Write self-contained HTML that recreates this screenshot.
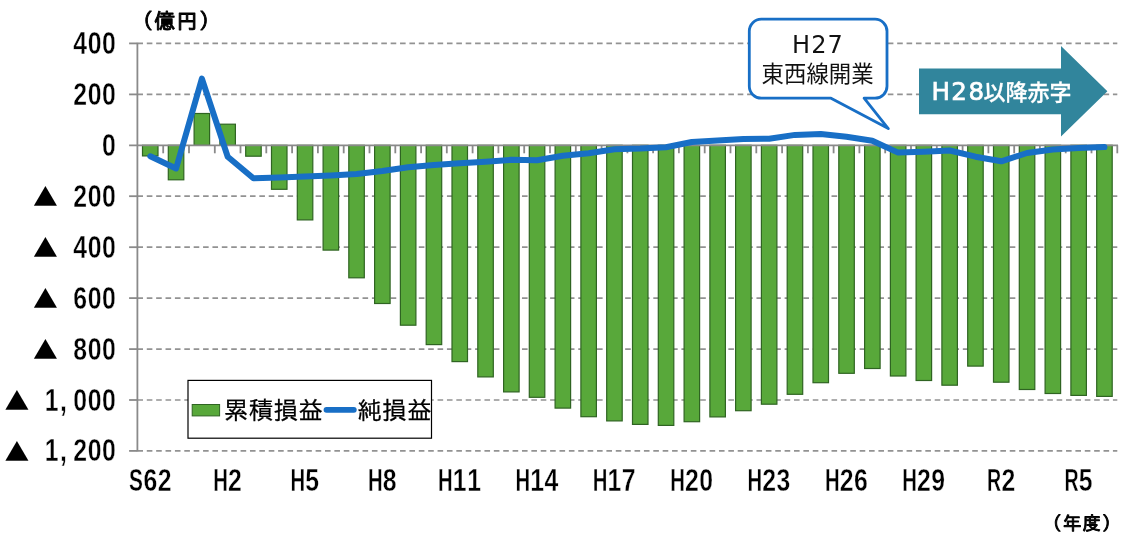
<!DOCTYPE html>
<html lang="ja"><head><meta charset="utf-8"><title>累積損益・純損益の推移</title>
<style>
html,body{margin:0;padding:0;background:#fff;}
body{width:1125px;height:538px;overflow:hidden;}
svg{display:block;}
.ax{font-family:"Liberation Sans","Noto Sans CJK JP",sans-serif;font-weight:bold;font-size:30.6px;fill:#000;stroke:#fff;stroke-width:0.4px;}
.tri{font-family:"IPAGothic","DejaVu Sans",sans-serif;stroke:none;}
.unit{font-family:"IPAGothic","Noto Sans CJK JP",sans-serif;fill:#000;stroke:#000;stroke-width:0.95px;stroke-linejoin:round;}
.lg{font-family:"IPAGothic","Noto Sans CJK JP",sans-serif;font-size:24.6px;fill:#000;stroke:#000;stroke-width:0.25px;}
.co{font-family:"DejaVu Sans","Liberation Sans","Noto Sans CJK JP",sans-serif;fill:#111;}
.cj{font-family:"Noto Sans CJK JP","Liberation Sans",sans-serif;fill:#111;}
.ar{font-family:"DejaVu Sans","Liberation Sans","Noto Sans CJK JP",sans-serif;fill:#fff;stroke:#fff;stroke-width:0.7px;}
.aj{font-family:"Noto Sans CJK JP","Liberation Sans",sans-serif;font-weight:500;fill:#fff;stroke:#fff;stroke-width:0.3px;}
</style></head><body>
<svg width="1125" height="538" viewBox="0 0 1125 538">
<rect width="1125" height="538" fill="#fff"/>
<g stroke="#929292" stroke-width="1.7" stroke-dasharray="5.6 3.78" fill="none">
<line x1="137.4" y1="43.4" x2="1117.3" y2="43.4"/>
<line x1="137.4" y1="94.4" x2="1117.3" y2="94.4"/>
<line x1="137.4" y1="196.2" x2="1117.3" y2="196.2"/>
<line x1="137.4" y1="247.2" x2="1117.3" y2="247.2"/>
<line x1="137.4" y1="298.1" x2="1117.3" y2="298.1"/>
<line x1="137.4" y1="349.1" x2="1117.3" y2="349.1"/>
<line x1="137.4" y1="400.0" x2="1117.3" y2="400.0"/>
<line x1="137.4" y1="450.9" x2="1117.3" y2="450.9"/>
</g>
<g fill="#58a83a" stroke="#2f6422" stroke-width="1.2">
<rect x="142.5" y="145.3" width="15.5" height="10.6"/>
<rect x="168.3" y="145.3" width="15.5" height="34.5"/>
<rect x="194.1" y="113.5" width="15.5" height="31.8"/>
<rect x="219.9" y="124.2" width="15.5" height="21.1"/>
<rect x="245.7" y="145.3" width="15.5" height="10.9"/>
<rect x="271.5" y="145.3" width="15.5" height="44.0"/>
<rect x="297.3" y="145.3" width="15.5" height="74.6"/>
<rect x="323.1" y="145.3" width="15.5" height="104.8"/>
<rect x="348.8" y="145.3" width="15.5" height="132.5"/>
<rect x="374.6" y="145.3" width="15.5" height="158.2"/>
<rect x="400.4" y="145.3" width="15.5" height="179.9"/>
<rect x="426.2" y="145.3" width="15.5" height="199.3"/>
<rect x="452.0" y="145.3" width="15.5" height="216.3"/>
<rect x="477.8" y="145.3" width="15.5" height="231.6"/>
<rect x="503.6" y="145.3" width="15.5" height="246.6"/>
<rect x="529.3" y="145.3" width="15.5" height="252.0"/>
<rect x="555.1" y="145.3" width="15.5" height="262.8"/>
<rect x="580.9" y="145.3" width="15.5" height="271.4"/>
<rect x="606.7" y="145.3" width="15.5" height="275.6"/>
<rect x="632.5" y="145.3" width="15.5" height="279.1"/>
<rect x="658.3" y="145.3" width="15.5" height="280.1"/>
<rect x="684.1" y="145.3" width="15.5" height="276.4"/>
<rect x="709.9" y="145.3" width="15.5" height="271.6"/>
<rect x="735.6" y="145.3" width="15.5" height="265.4"/>
<rect x="761.4" y="145.3" width="15.5" height="258.9"/>
<rect x="787.2" y="145.3" width="15.5" height="249.0"/>
<rect x="813.0" y="145.3" width="15.5" height="237.4"/>
<rect x="838.8" y="145.3" width="15.5" height="228.0"/>
<rect x="864.6" y="145.3" width="15.5" height="223.2"/>
<rect x="890.4" y="145.3" width="15.5" height="230.7"/>
<rect x="916.1" y="145.3" width="15.5" height="235.2"/>
<rect x="941.9" y="145.3" width="15.5" height="239.9"/>
<rect x="967.7" y="145.3" width="15.5" height="220.8"/>
<rect x="993.5" y="145.3" width="15.5" height="236.9"/>
<rect x="1019.3" y="145.3" width="15.5" height="244.2"/>
<rect x="1045.1" y="145.3" width="15.5" height="248.2"/>
<rect x="1070.9" y="145.3" width="15.5" height="250.1"/>
<rect x="1096.7" y="145.3" width="15.5" height="251.1"/>
</g>
<g stroke="#8a8a8a" stroke-width="1.8" fill="none">
<line x1="137.4" y1="42.7" x2="137.4" y2="451.6"/>
<line x1="129.1" y1="145.3" x2="1118.0" y2="145.3"/>
<line x1="129.1" y1="43.4" x2="137.4" y2="43.4"/>
<line x1="129.1" y1="94.4" x2="137.4" y2="94.4"/>
<line x1="129.1" y1="196.2" x2="137.4" y2="196.2"/>
<line x1="129.1" y1="247.2" x2="137.4" y2="247.2"/>
<line x1="129.1" y1="298.1" x2="137.4" y2="298.1"/>
<line x1="129.1" y1="349.1" x2="137.4" y2="349.1"/>
<line x1="129.1" y1="400.0" x2="137.4" y2="400.0"/>
<line x1="129.1" y1="450.9" x2="137.4" y2="450.9"/>
<line x1="163.2" y1="145.3" x2="163.2" y2="153.3"/>
<line x1="189.0" y1="145.3" x2="189.0" y2="153.3"/>
<line x1="214.8" y1="145.3" x2="214.8" y2="153.3"/>
<line x1="240.5" y1="145.3" x2="240.5" y2="153.3"/>
<line x1="266.3" y1="145.3" x2="266.3" y2="153.3"/>
<line x1="292.1" y1="145.3" x2="292.1" y2="153.3"/>
<line x1="317.9" y1="145.3" x2="317.9" y2="153.3"/>
<line x1="343.7" y1="145.3" x2="343.7" y2="153.3"/>
<line x1="369.5" y1="145.3" x2="369.5" y2="153.3"/>
<line x1="395.3" y1="145.3" x2="395.3" y2="153.3"/>
<line x1="421.1" y1="145.3" x2="421.1" y2="153.3"/>
<line x1="446.8" y1="145.3" x2="446.8" y2="153.3"/>
<line x1="472.6" y1="145.3" x2="472.6" y2="153.3"/>
<line x1="498.4" y1="145.3" x2="498.4" y2="153.3"/>
<line x1="524.2" y1="145.3" x2="524.2" y2="153.3"/>
<line x1="550.0" y1="145.3" x2="550.0" y2="153.3"/>
<line x1="575.8" y1="145.3" x2="575.8" y2="153.3"/>
<line x1="601.6" y1="145.3" x2="601.6" y2="153.3"/>
<line x1="627.4" y1="145.3" x2="627.4" y2="153.3"/>
<line x1="653.1" y1="145.3" x2="653.1" y2="153.3"/>
<line x1="678.9" y1="145.3" x2="678.9" y2="153.3"/>
<line x1="704.7" y1="145.3" x2="704.7" y2="153.3"/>
<line x1="730.5" y1="145.3" x2="730.5" y2="153.3"/>
<line x1="756.3" y1="145.3" x2="756.3" y2="153.3"/>
<line x1="782.1" y1="145.3" x2="782.1" y2="153.3"/>
<line x1="807.9" y1="145.3" x2="807.9" y2="153.3"/>
<line x1="833.6" y1="145.3" x2="833.6" y2="153.3"/>
<line x1="859.4" y1="145.3" x2="859.4" y2="153.3"/>
<line x1="885.2" y1="145.3" x2="885.2" y2="153.3"/>
<line x1="911.0" y1="145.3" x2="911.0" y2="153.3"/>
<line x1="936.8" y1="145.3" x2="936.8" y2="153.3"/>
<line x1="962.6" y1="145.3" x2="962.6" y2="153.3"/>
<line x1="988.4" y1="145.3" x2="988.4" y2="153.3"/>
<line x1="1014.2" y1="145.3" x2="1014.2" y2="153.3"/>
<line x1="1039.9" y1="145.3" x2="1039.9" y2="153.3"/>
<line x1="1065.7" y1="145.3" x2="1065.7" y2="153.3"/>
<line x1="1091.5" y1="145.3" x2="1091.5" y2="153.3"/>
<line x1="1117.3" y1="145.3" x2="1117.3" y2="153.3"/>
</g>
<polyline points="150.3,156.3 176.1,168.5 201.9,78.6 227.7,156.8 253.4,178.2 279.2,177.6 305.0,176.6 330.8,175.5 356.6,173.9 382.4,171.0 408.2,167.3 433.9,165.1 459.7,163.2 485.5,161.7 511.3,159.8 537.1,160.2 562.9,155.7 588.7,153.2 614.5,149.2 640.2,148.6 666.0,147.3 691.8,142.0 717.6,140.5 743.4,138.9 769.2,138.7 795.0,134.9 820.8,134.1 846.5,136.7 872.3,140.7 898.1,152.6 923.9,151.8 949.7,150.5 975.5,156.7 1001.3,161.3 1027.0,153.0 1052.8,149.5 1078.6,148.0 1104.4,147.1" fill="none" stroke="#186fc6" stroke-width="6" stroke-linejoin="round" stroke-linecap="round"/>
<text class="ax" transform="translate(0,53.9) scale(0.81,1)" x="90.57 108.22 125.88" y="0">400</text>
<text class="ax" transform="translate(0,104.9) scale(0.81,1)" x="90.57 108.22 125.88" y="0">200</text>
<text class="ax" transform="translate(0,155.8) scale(0.81,1)" x="125.88" y="0">0</text>
<text class="tri" transform="translate(45.3,205.8) scale(1.1,0.975)" x="0" y="0" text-anchor="middle" font-size="26.2px">▲</text><text class="ax" transform="translate(0,206.7) scale(0.81,1)" x="90.57 108.22 125.88" y="0">200</text>
<text class="tri" transform="translate(45.3,256.8) scale(1.1,0.975)" x="0" y="0" text-anchor="middle" font-size="26.2px">▲</text><text class="ax" transform="translate(0,257.7) scale(0.81,1)" x="90.57 108.22 125.88" y="0">400</text>
<text class="tri" transform="translate(45.3,307.7) scale(1.1,0.975)" x="0" y="0" text-anchor="middle" font-size="26.2px">▲</text><text class="ax" transform="translate(0,308.6) scale(0.81,1)" x="90.57 108.22 125.88" y="0">600</text>
<text class="tri" transform="translate(45.3,358.7) scale(1.1,0.975)" x="0" y="0" text-anchor="middle" font-size="26.2px">▲</text><text class="ax" transform="translate(0,359.6) scale(0.81,1)" x="90.57 108.22 125.88" y="0">800</text>
<text class="tri" transform="translate(16.8,409.6) scale(1.1,0.975)" x="0" y="0" text-anchor="middle" font-size="26.2px">▲</text><text class="ax" transform="translate(0,410.5) scale(0.81,1)" x="55.26 74.08 90.57 108.22 125.88" y="0">1,000</text>
<text class="tri" transform="translate(16.8,460.5) scale(1.1,0.975)" x="0" y="0" text-anchor="middle" font-size="26.2px">▲</text><text class="ax" transform="translate(0,461.4) scale(0.81,1)" x="55.26 74.08 90.57 108.22 125.88" y="0">1,200</text>
<text class="ax" transform="translate(0,491.0) scale(0.81,1)" x="159.32 177.04 194.69" y="0"><tspan textLength="17.14" lengthAdjust="spacingAndGlyphs">S</tspan>62</text>
<text class="ax" transform="translate(0,491.0) scale(0.81,1)" x="263.17 281.37" y="0"><tspan textLength="18.12" lengthAdjust="spacingAndGlyphs">H</tspan>2</text>
<text class="ax" transform="translate(0,491.0) scale(0.81,1)" x="358.68 376.88" y="0"><tspan textLength="18.12" lengthAdjust="spacingAndGlyphs">H</tspan>5</text>
<text class="ax" transform="translate(0,491.0) scale(0.81,1)" x="454.18 472.39" y="0"><tspan textLength="18.12" lengthAdjust="spacingAndGlyphs">H</tspan>8</text>
<text class="ax" transform="translate(0,491.0) scale(0.81,1)" x="540.86 559.07 576.72" y="0"><tspan textLength="18.12" lengthAdjust="spacingAndGlyphs">H</tspan>11</text>
<text class="ax" transform="translate(0,491.0) scale(0.81,1)" x="636.37 654.57 672.23" y="0"><tspan textLength="18.12" lengthAdjust="spacingAndGlyphs">H</tspan>14</text>
<text class="ax" transform="translate(0,491.0) scale(0.81,1)" x="731.88 750.08 767.74" y="0"><tspan textLength="18.12" lengthAdjust="spacingAndGlyphs">H</tspan>17</text>
<text class="ax" transform="translate(0,491.0) scale(0.81,1)" x="827.38 845.59 863.24" y="0"><tspan textLength="18.12" lengthAdjust="spacingAndGlyphs">H</tspan>20</text>
<text class="ax" transform="translate(0,491.0) scale(0.81,1)" x="922.89 941.10 958.75" y="0"><tspan textLength="18.12" lengthAdjust="spacingAndGlyphs">H</tspan>23</text>
<text class="ax" transform="translate(0,491.0) scale(0.81,1)" x="1018.40 1036.60 1054.26" y="0"><tspan textLength="18.12" lengthAdjust="spacingAndGlyphs">H</tspan>26</text>
<text class="ax" transform="translate(0,491.0) scale(0.81,1)" x="1113.90 1132.11 1149.76" y="0"><tspan textLength="18.12" lengthAdjust="spacingAndGlyphs">H</tspan>29</text>
<text class="ax" transform="translate(0,491.0) scale(0.81,1)" x="1218.57 1236.44" y="0"><tspan textLength="17.45" lengthAdjust="spacingAndGlyphs">R</tspan>2</text>
<text class="ax" transform="translate(0,491.0) scale(0.81,1)" x="1314.08 1331.95" y="0"><tspan textLength="17.45" lengthAdjust="spacingAndGlyphs">R</tspan>5</text>
<text class="unit" x="131.8" y="29.3" font-size="21.33px" letter-spacing="1.1px">（億円）</text>
<text class="unit" x="1043.1" y="529.9" font-size="18.67px" letter-spacing="1px">（年度）</text>
<rect x="188" y="380.4" width="243.5" height="57.8" fill="#fff" stroke="#000" stroke-width="1.2"/>
<rect x="192.2" y="404.5" width="27.4" height="11.4" fill="#58a83a" stroke="#2f6422" stroke-width="1"/>
<text class="lg" x="223.8" y="418.8" letter-spacing="0.25px">累積損益</text>
<line x1="326.5" y1="409.8" x2="353.8" y2="409.8" stroke="#186fc6" stroke-width="5.8" stroke-linecap="round"/>
<text class="lg" x="357.2" y="418.8" letter-spacing="0.25px">純損益</text>
<path d="M761.3,19.2 H875 a12,12 0 0 1 12,12 V86.2 a12,12 0 0 1 -12,12 H864.1 L888.3,128.6 L831,98.2 H761.3 a12,12 0 0 1 -12,-12 V31.2 a12,12 0 0 1 12,-12 Z" fill="#fff" stroke="#186fc6" stroke-width="2.8" stroke-linejoin="round"/>
<text class="co" x="818" y="53.1" font-size="24px" text-anchor="middle" letter-spacing="1.2px">H27</text>
<text class="cj" x="817.6" y="82.2" font-size="22.4px" text-anchor="middle">東西線開業</text>
<path d="M919,68.4 H1061 V46.1 L1107.4,91.3 L1061,136.6 V114.3 H919 Z" fill="#31859c"/>
<text x="931.4" y="99.8"><tspan class="ar" font-size="24.5px" letter-spacing="1.5px">H28</tspan><tspan class="aj" x="983.6" font-size="22px">以降赤字</tspan></text>
</svg>
</body></html>
